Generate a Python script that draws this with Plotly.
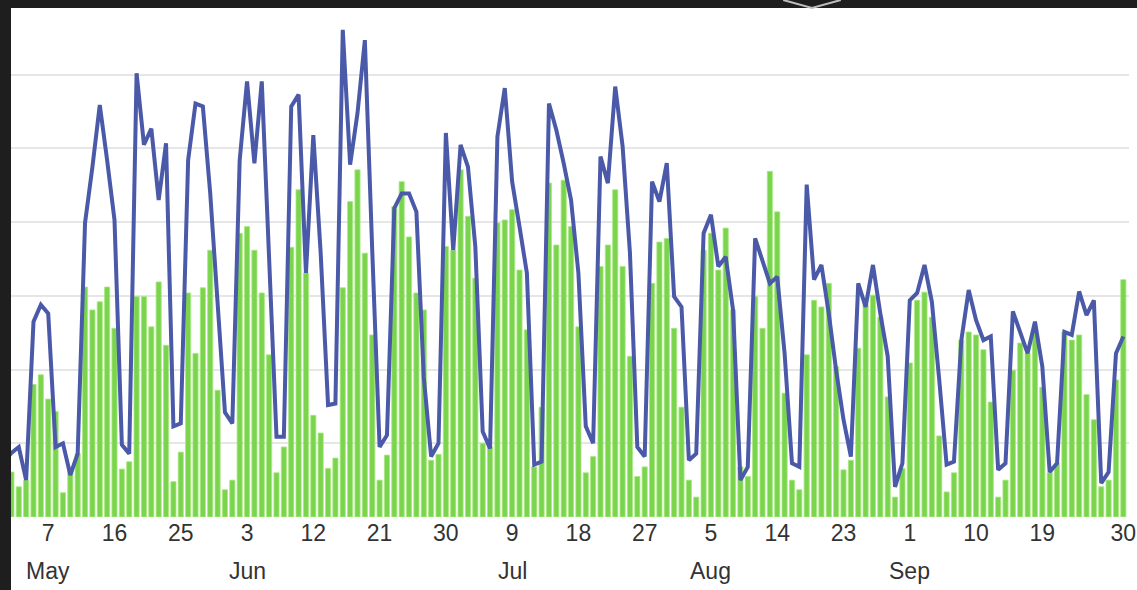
import pandas as pd
import plotly.graph_objects as go

# ---- data (daily, 1 May .. 30 Sep) ----
start_date = "2014-05-01"
n_days = 153

line_values = [
    75, 87, 95, 50, 265, 288, 276, 95, 100, 57,
    86, 399, 475, 559, 484, 403, 98, 86, 602, 505,
    527, 430, 507, 123, 127, 484, 561, 557, 439, 290,
    142, 127, 484, 591, 480, 591, 358, 109, 109, 557,
    573, 331, 518, 358, 152, 154, 661, 478, 548, 647,
    362, 95, 111, 419, 439, 439, 414, 190, 82, 100,
    521, 362, 505, 475, 367, 116, 93, 516, 582, 455,
    394, 331, 71, 75, 561, 525, 480, 430, 331, 123,
    100, 489, 453, 584, 503, 358, 95, 82, 455, 428,
    480, 299, 285, 77, 86, 385, 410, 340, 353, 281,
    50, 68, 378, 349, 317, 326, 222, 73, 68, 451,
    322, 342, 276, 199, 132, 82, 317, 285, 342, 276,
    218, 41, 73, 294, 304, 342, 292, 186, 71, 75,
    240, 308, 267, 240, 245, 64, 73, 279, 249, 222,
    265, 204, 61, 73, 251, 247, 306, 274, 294, 46,
    61, 222, 245,
]

bar_values = [
    55, 61, 41, 50, 180, 193, 160, 143, 33, 64,
    86, 312, 281, 292, 312, 256, 65, 75, 299, 299,
    258, 319, 233, 48, 88, 304, 222, 311, 362, 172,
    37, 50, 385, 394, 362, 304, 220, 60, 95, 366,
    444, 331, 138, 114, 66, 80, 311, 428, 471, 358,
    247, 50, 84, 421, 455, 380, 304, 281, 77, 85,
    367, 362, 471, 408, 324, 100, 95, 399, 403, 417,
    335, 254, 68, 149, 453, 369, 457, 394, 258, 60,
    82, 340, 369, 444, 340, 218, 55, 68, 317, 373,
    378, 256, 149, 50, 27, 362, 385, 335, 392, 281,
    68, 55, 299, 256, 469, 414, 168, 50, 37, 220,
    294, 285, 317, 204, 64, 77, 229, 288, 301, 271,
    163, 27, 66, 209, 294, 305, 271, 110, 34, 60,
    240, 251, 247, 227, 156, 27, 50, 199, 236, 222,
    251, 176, 60, 73, 251, 240, 247, 166, 132, 41,
    50, 186, 322,
]

tick_dates = [
    "2014-05-07", "2014-05-16", "2014-05-25", "2014-06-03", "2014-06-12",
    "2014-06-21", "2014-06-30", "2014-07-09", "2014-07-18", "2014-07-27",
    "2014-08-05", "2014-08-14", "2014-08-23", "2014-09-01", "2014-09-10",
    "2014-09-19", "2014-09-30",
]
tick_labels = ["7", "16", "25", "3", "12", "21", "30", "9", "18", "27",
               "5", "14", "23", "1", "10", "19", "30"]
month_dates = ["2014-05-07", "2014-06-03", "2014-07-09", "2014-08-05", "2014-09-01"]
month_labels = ["May", "Jun", "Jul", "Aug", "Sep"]

dates = pd.date_range(start_date, periods=n_days, freq="D")

BAR_COLOR = "#7bd44e"
LINE_COLOR = "#4b59a9"
DARK = "#1e1e1e"
TEXT = "#333333"
FONT = "Liberation Sans, Arial, sans-serif"

fig = go.Figure()
fig.add_trace(go.Bar(
    x=dates, y=bar_values,
    marker=dict(color=BAR_COLOR, line=dict(color="#a8ea80", width=0.8)),
    showlegend=False,
))
fig.add_trace(go.Scatter(
    x=dates, y=line_values, mode="lines",
    line=dict(color=LINE_COLOR, width=4),
    showlegend=False,
))

x_start = pd.Timestamp(start_date) + pd.Timedelta(days=0.945)
x_end = pd.Timestamp(start_date) + pd.Timedelta(days=152.77)

fig.update_layout(
    width=1137, height=590,
    margin=dict(l=11, r=1, t=8, b=73),
    paper_bgcolor="white",
    plot_bgcolor="white",
    bargap=0.3,
    font=dict(family=FONT, color=TEXT, size=24),
    xaxis=dict(
        type="date",
        range=[x_start, x_end],
        tickvals=tick_dates,
        ticktext=tick_labels,
        showgrid=False, zeroline=False, showline=False,
        ticks="", ticklabeloverflow="allow",
        tickfont=dict(size=23, color=TEXT, family=FONT),
    ),
    yaxis=dict(
        range=[0, 690.6],
        dtick=100,
        showgrid=True, gridcolor="#e6e6e6", gridwidth=2,
        zeroline=False, showline=False, showticklabels=False, ticks="",
    ),
)

for md, ml in zip(month_dates, month_labels):
    fig.add_annotation(
        x=md, xref="x", y=0, yref="paper",
        text=ml, showarrow=False, yanchor="middle", yshift=-54,
        font=dict(size=23, color=TEXT, family=FONT),
    )

# dark frame at the left and top of the screenshot
fig.add_shape(type="rect", xref="paper", yref="paper",
              x0=-0.02, x1=0, y0=-0.2, y1=1.05,
              fillcolor=DARK, line=dict(width=0), layer="above")
fig.add_shape(type="rect", xref="paper", yref="paper",
              x0=-0.02, x1=1.01, y0=1, y1=1.05,
              fillcolor=DARK, line=dict(width=0), layer="above")
fig.add_shape(type="path", xref="paper", yref="paper",
              path="M 0.6907,1.0157 L 0.7164,1.0 L 0.7422,1.0157",
              line=dict(color="#bdbdbd", width=2), layer="above")

fig.write_html(
    "out.html",
    config={"displayModeBar": False},
    post_script="document.body.style.margin='0px';document.body.style.overflow='hidden';",
)
